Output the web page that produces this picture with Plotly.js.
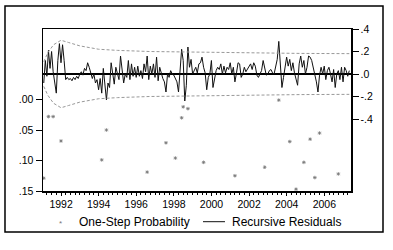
<!DOCTYPE html>
<html><head><meta charset="utf-8">
<script src="https://cdn.plot.ly/plotly-3.0.1.min.js"></script>
<style>html,body{margin:0;padding:0;background:#fff}#chart{width:393px;height:250px}</style>
</head><body><div id="chart"></div>
<script>
// Monthly sample starting 1991.08
const startYear = 1991.08;
const residuals = [
 -0.08, 0.12, -0.02, 0.21, 0.05, 0.20, 0.02, -0.10, -0.17, 0.12, 0.27, 0.10, 0.26, 0.12, -0.05,
 -0.03, -0.05, -0.04, -0.06, -0.03, -0.05, -0.02, -0.04, 0.00, 0.02, -0.01, 0.05, 0.03, 0.10, 0.06,
 0.01, -0.04, 0.00, -0.08, -0.05, -0.14, -0.04, -0.17, 0.05, -0.12,
 -0.23, -0.08, -0.12, 0.10, 0.02, -0.09, 0.06, 0.00, -0.05, 0.16, 0.03, -0.08, 0.00, -0.03, 0.12,
 -0.05, 0.09, -0.02, 0.06, -0.03, 0.07, -0.02, 0.03, -0.04, 0.09, 0.02,
 0.16, -0.05, 0.07, 0.00, 0.09, -0.03, 0.15, -0.06, 0.06, 0.00, -0.04, -0.07, -0.16, 0.00, -0.03,
 0.03, 0.00, -0.01, -0.04, -0.07, -0.16, 0.09, 0.22, 0.12, -0.24, -0.10, 0.24, 0.06, 0.13, 0.00,
 0.03, 0.06, 0.01, 0.09, 0.10, 0.15, 0.06, 0.01, -0.14, -0.03, 0.00, 0.12, -0.12, -0.03, 0.03,
 0.06, 0.04, 0.09, 0.00, 0.07, 0.01, 0.06, 0.04, 0.10, 0.00, 0.06, -0.07, 0.01, 0.10, 0.09,
 -0.03, 0.00, 0.06, 0.02, 0.04, 0.06, 0.09, 0.04, 0.10, 0.07, -0.01, -0.03, 0.00, 0.03, 0.12,
 0.06, -0.01, 0.00, 0.03, 0.04, 0.01, 0.00, 0.06, 0.13, 0.29, 0.05, -0.12, -0.03, 0.06, 0.15,
 0.07, 0.13, 0.03, 0.10, 0.01, -0.04, -0.10, 0.09, 0.16, 0.06, 0.12, 0.00, 0.06, 0.16, 0.15,
 0.12, 0.06, 0.00, -0.07, -0.16, -0.01, 0.06, 0.00, 0.07, -0.05, 0.03, 0.06, 0.00, -0.07, 0.04,
 -0.12, 0.00, 0.03, -0.05, 0.06, -0.07, 0.06, 0.03, -0.02, 0.03
];
// +/- 2 S.E. band
const bandYears = [1991.08, 1991.3, 1991.6, 1992.0, 1992.4, 1993.0, 1994.0, 1995.0, 1996.7, 1999.4, 2002.0, 2004.7, 2007.33];
const bandVals  = [0.11, 0.19, 0.26, 0.30, 0.28, 0.25, 0.22, 0.21, 0.20, 0.193, 0.189, 0.183, 0.181];
// One-step probabilities (only those below .15 are visible)
const probIndex = [0, 3, 6, 11, 37, 40, 66, 78, 84, 88, 89, 92, 102, 122, 141, 150, 157, 161, 166, 170, 173, 176, 188];
const probVals  = [0.129, 0.028, 0.028, 0.068, 0.099, 0.050, 0.119, 0.071, 0.096, 0.030, 0.012, 0.015, 0.103, 0.125, 0.111, 0.001, 0.069, 0.147, 0.103, 0.065, 0.128, 0.055, 0.122];
const yearTicks = [1992, 1994, 1996, 1998, 2000, 2002, 2004, 2006];
const probTicks = [0, 0.05, 0.10, 0.15];
const probTickText = ['.00', '.05', '.10', '.15'];
const resTicks = [-0.4, -0.2, 0, 0.2, 0.4];
const resTickText = ['-.4', '-.2', '.0', '.2', '.4'];
const seriesNames = ['One-Step Probability', 'Recursive Residuals'];

const resDates = residuals.map((v, i) => startYear + i / 12);
const probDates = probIndex.map(i => startYear + i / 12);
const FAM = 'Liberation Sans, Arial, sans-serif';
const font = {family: FAM, size: 10.5, color: '#000'};

const traces = [
  {x: probDates, y: probVals, yaxis: 'y', type: 'scatter', mode: 'markers', name: seriesNames[0],
   marker: {symbol: 'asterisk-open', size: 3, color: '#777', line: {color: '#777', width: 0.8}}},
  {x: resDates, y: residuals, yaxis: 'y2', type: 'scatter', mode: 'lines', name: seriesNames[1],
   line: {color: '#111', width: 1}},
  {x: bandYears, y: bandVals, yaxis: 'y2', type: 'scatter', mode: 'lines',
   line: {color: '#999', width: 1, dash: '3px,2px'}},
  {x: bandYears, y: bandVals.map(v => -v), yaxis: 'y2', type: 'scatter', mode: 'lines',
   line: {color: '#999', width: 1, dash: '3px,2px'}}
];

const legY = -0.1895;
const layout = {
  width: 393, height: 250,
  margin: {l: 43, r: 42, t: 29, b: 59},
  paper_bgcolor: '#fff', plot_bgcolor: '#fff',
  font: font,
  showlegend: false,
  xaxis: {range: [1991.04, 2007.42], tickmode: 'array', tickvals: yearTicks, ticktext: yearTicks.map(String),
          ticks: 'outside', ticklen: 3, tickcolor: '#000', showgrid: false, zeroline: false,
          showline: true, linecolor: '#000', linewidth: 1.5, mirror: true,
          minor: {dtick: 0.25, tick0: 1991, ticks: 'outside', ticklen: 2, tickcolor: '#000', showgrid: false},
          tickfont: font},
  yaxis: {range: [0.15, -0.1156], tickmode: 'array', tickvals: probTicks, ticktext: probTickText,
          ticks: 'outside', ticklen: 6, tickcolor: '#000', showgrid: false, zeroline: false,
          showline: true, linecolor: '#000', linewidth: 1.5, tickfont: font},
  yaxis2: {range: [-1.04, 0.4], overlaying: 'y', side: 'right', tickmode: 'array', tickvals: resTicks, ticktext: resTickText,
          ticks: 'outside', ticklen: 6, tickcolor: '#000', showgrid: false,
          zeroline: true, zerolinecolor: '#000', zerolinewidth: 1.3,
          showline: true, linecolor: '#000', linewidth: 1.5, tickfont: font},
  shapes: [
    {type: 'rect', xref: 'paper', yref: 'paper', x0: -0.1234, x1: 1.1039, y0: -0.253, y1: 1.142,
     line: {color: '#000', width: 1.5}, fillcolor: 'rgba(0,0,0,0)'},
    {type: 'line', xref: 'paper', yref: 'paper', x0: 0.5195, x1: 0.5909, y0: legY, y1: legY,
     line: {color: '#111', width: 1}}
  ],
  annotations: [
    {xref: 'paper', yref: 'paper', x: 0.0552, y: legY - 0.01, text: '*', showarrow: false, xanchor: 'center', yanchor: 'middle',
     font: {family: FAM, size: 8, color: '#777'}},
    {xref: 'paper', yref: 'paper', x: 0.1104, y: legY, text: seriesNames[0], showarrow: false, xanchor: 'left', yanchor: 'middle',
     font: {family: FAM, size: 12, color: '#000'}},
    {xref: 'paper', yref: 'paper', x: 0.6071, y: legY, text: seriesNames[1], showarrow: false, xanchor: 'left', yanchor: 'middle',
     font: {family: FAM, size: 12, color: '#000'}}
  ]
};
Plotly.newPlot('chart', traces, layout, {displayModeBar: false, staticPlot: true});
</script></body></html>
